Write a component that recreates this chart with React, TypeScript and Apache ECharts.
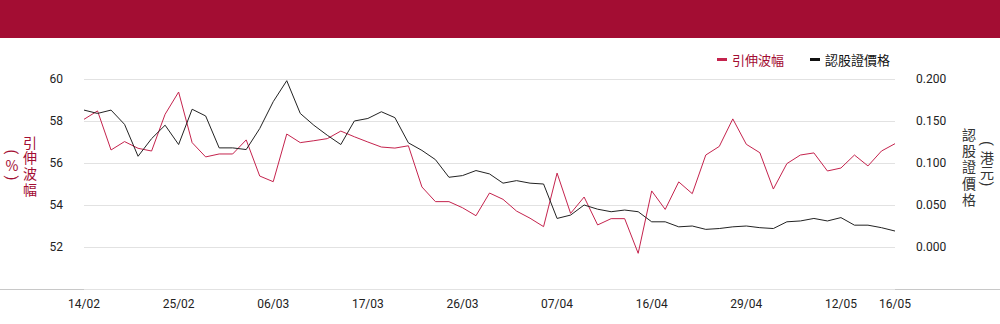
import React, { useEffect, useRef } from "react";
import * as echarts from "echarts";

const categories: string[] = [
  "14/02", "17/02", "18/02", "19/02", "20/02", "21/02", "24/02", "25/02", "26/02", "27/02", "28/02",
  "03/03", "04/03", "05/03", "06/03", "07/03", "10/03", "11/03", "12/03", "13/03", "14/03", "17/03",
  "18/03", "19/03", "20/03", "21/03", "24/03", "25/03", "26/03", "27/03", "28/03", "31/03",
  "01/04", "02/04", "03/04", "07/04", "08/04", "09/04", "10/04", "11/04", "14/04", "15/04", "16/04",
  "17/04", "22/04", "23/04", "24/04", "25/04", "28/04", "29/04", "30/04",
  "02/05", "06/05", "07/05", "08/05", "09/05", "12/05", "13/05", "14/05", "15/05", "16/05",
];

const impliedVol: number[] = [
  58.08, 58.48, 56.62, 57.02, 56.7, 56.57, 58.32, 59.38, 56.97, 56.29, 56.43,
  56.43, 57.1, 55.38, 55.11, 57.38, 56.97, 57.06, 57.16, 57.52, 57.25, 57.0,
  56.76, 56.71, 56.82, 54.86, 54.16, 54.16, 53.87, 53.49, 54.57, 54.27,
  53.71, 53.37, 52.97, 55.52, 53.6, 54.38, 53.05, 53.35, 53.35, 51.7, 54.67,
  53.79, 55.1, 54.54, 56.38, 56.79, 58.1, 56.89, 56.49,
  54.76, 55.97, 56.38, 56.48, 55.62, 55.76, 56.38, 55.86, 56.57, 56.92,
];

const warrantPrice: number[] = [
  0.163, 0.159, 0.163, 0.146, 0.108, 0.129, 0.145, 0.122, 0.164, 0.156, 0.118,
  0.118, 0.116, 0.141, 0.173, 0.198, 0.159, 0.145, 0.133, 0.122, 0.15, 0.153,
  0.161, 0.154, 0.124, 0.115, 0.104, 0.083, 0.085, 0.091, 0.087, 0.076,
  0.079, 0.076, 0.075, 0.034, 0.038, 0.05, 0.045, 0.042, 0.044, 0.042, 0.03,
  0.03, 0.024, 0.025, 0.021, 0.022, 0.024, 0.025, 0.023,
  0.022, 0.03, 0.031, 0.034, 0.031, 0.035, 0.026, 0.026, 0.023, 0.019,
];

const seriesNames = ["引伸波幅", "認股證價格"];
const leftAxisName = "引伸波幅";
const leftAxisUnit = ["(", "%", ")"];
const rightAxisName = "認股證價格";
const rightAxisUnit = ["(", "港", "元", ")"];

const RED = "#C4234D";
const DARK_RED = "#A30D33";
const FONT = 'Roboto, "Noto Sans CJK TC", sans-serif';
const CJK = '"Noto Sans CJK TC", sans-serif';

const columnTexts = (chars: string[], x: number, ys: number[], fill: string) =>
  chars.map((c, i) => {
    const paren = c === "(" || c === ")";
    return {
      type: "text",
      x,
      y: ys[i],
      rotation: paren ? -Math.PI / 2 : 0,
      silent: true,
      style: {
        text: c,
        fill,
        font: `14px ${paren ? FONT : CJK}`,
        align: "center",
        verticalAlign: "middle",
      },
    };
  });

const stack = (s: string, x: number, y0: number, pitch: number, fill: string) =>
  columnTexts(Array.from(s), x, Array.from(s).map((_, i) => y0 + i * pitch), fill);

export default function App() {
  const ref = useRef<HTMLDivElement>(null);

  useEffect(() => {
    document.body.style.margin = "0";
    if (!ref.current) return;
    const chart = echarts.init(ref.current, null, { renderer: "svg" });
    const lastIdx = categories.length - 1;
    chart.setOption({
      animation: false,
      textStyle: { fontFamily: FONT },
      grid: { left: 84, right: 105, top: 79, bottom: 35 },
      legend: {
        top: 48,
        right: 105,
        icon: "rect",
        itemWidth: 10,
        itemHeight: 3,
        itemGap: 26,
        textStyle: { fontFamily: CJK, fontSize: 13 },
        data: [
          { name: seriesNames[0], textStyle: { color: DARK_RED } },
          { name: seriesNames[1], textStyle: { color: "#111" } },
        ],
      },
      xAxis: {
        type: "category",
        data: categories,
        boundaryGap: false,
        axisLine: { show: false },
        axisTick: { show: false },
        axisLabel: {
          color: "#222",
          fontSize: 12,
          margin: 9,
          interval: (idx: number) => idx % 7 === 0 || idx === lastIdx,
        },
      },
      yAxis: [
        {
          type: "value",
          min: 50,
          max: 60,
          interval: 2,
          axisLine: { show: false },
          axisTick: { show: false },
          axisLabel: { color: "#222", fontSize: 12, margin: 21, showMinLabel: false },
          splitLine: { lineStyle: { color: "#E2E2E2", width: 1 } },
        },
        {
          type: "value",
          min: -0.05,
          max: 0.2,
          interval: 0.05,
          axisLine: { show: false },
          axisTick: { show: false },
          axisLabel: {
            color: "#222",
            fontSize: 12,
            margin: 21,
            showMinLabel: false,
            formatter: (v: number) => (Math.abs(v) < 1e-9 ? 0 : v).toFixed(3),
          },
          splitLine: { show: false },
        },
      ],
      series: [
        {
          name: seriesNames[0],
          type: "line",
          yAxisIndex: 0,
          data: impliedVol,
          symbol: "none",
          color: RED,
          lineStyle: { color: RED, width: 1 },
        },
        {
          name: seriesNames[1],
          type: "line",
          yAxisIndex: 1,
          data: warrantPrice,
          symbol: "none",
          color: "#111",
          lineStyle: { color: "#222", width: 1 },
        },
      ],
      graphic: [
        {
          type: "rect",
          shape: { x: 0, y: 0, width: 1000, height: 38 },
          style: { fill: DARK_RED },
          silent: true,
        },
        {
          type: "line",
          shape: { x1: 0, y1: 289.5, x2: 1000, y2: 289.5 },
          style: { stroke: "#C8C8C8", lineWidth: 1 },
          silent: true,
        },
        ...stack(leftAxisName, 30, 141.5, 15.8, DARK_RED),
        ...columnTexts(leftAxisUnit, 12, [152, 165, 178], DARK_RED),
        ...stack(rightAxisName, 969, 134, 16.2, "#333"),
        ...columnTexts(rightAxisUnit, 987, [143.5, 156.5, 171.5, 184], "#333"),
      ],
    });
    return () => chart.dispose();
  }, []);

  return (
    <div
      ref={ref}
      style={{ position: "absolute", left: 0, top: 0, width: 1000, height: 324, background: "#fff" }}
    />
  );
}
